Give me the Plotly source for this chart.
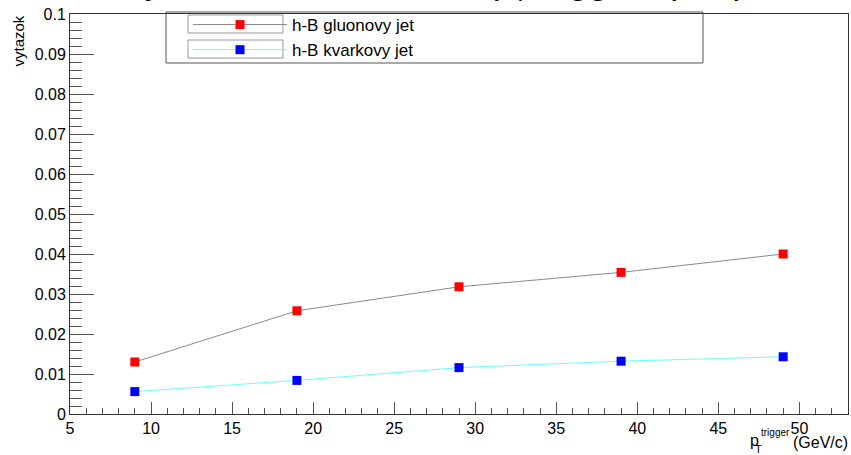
import plotly.graph_objects as go

# ---- data ----
pt_trigger = [9, 19, 29, 39, 49]
gluon_yield = [0.0130, 0.0258, 0.0318, 0.0354, 0.0400]
quark_yield = [0.0056, 0.0084, 0.0116, 0.0132, 0.0143]
series_names = ["h-B gluonovy jet", "h-B kvarkovy jet"]

FONT = "Liberation Sans, Arial, Helvetica, sans-serif"
W, H = 851, 455
L, R, T, B = 70, 3, 14, 41
PW, PH = W - L - R, H - T - B

def px_x(p):
    return (p - L) / PW

def px_y(p):
    return (H - B - p) / PH

fig = go.Figure()
fig.add_trace(go.Scatter(
    x=pt_trigger, y=gluon_yield, name=series_names[0], mode="lines+markers",
    line=dict(color="#8a8a8a", width=1),
    marker=dict(symbol="square", size=9, color="#ff0000", line=dict(width=0)),
))
fig.add_trace(go.Scatter(
    x=pt_trigger, y=quark_yield, name=series_names[1], mode="lines+markers",
    line=dict(color="#66ffff", width=1),
    marker=dict(symbol="square", size=9, color="#0000ff", line=dict(width=0)),
))

axis_common = dict(
    showgrid=False, zeroline=False, showline=True, linecolor="#333", linewidth=1,
    mirror=True, ticks="inside", tickcolor="#555", tickwidth=1, automargin=False,
    tickfont=dict(family=FONT, size=16, color="black"),
)
fig.update_xaxes(range=[5, 53], dtick=5, tick0=5, ticklen=12,
                 minor=dict(dtick=1, ticklen=6, ticks="inside", tickcolor="#555"),
                 **axis_common)
fig.update_yaxes(range=[0, 0.1], dtick=0.01, tick0=0, ticklen=24,
                 minor=dict(dtick=0.002, ticklen=12, ticks="inside", tickcolor="#555"),
                 **axis_common)

shapes = [
    # legend frame
    dict(type="rect", xref="paper", yref="paper",
         x0=px_x(166), x1=px_x(703), y0=px_y(63), y1=px_y(12),
         line=dict(color="#555", width=1), fillcolor="rgba(0,0,0,0)", layer="above"),
    # legend symbol boxes
    dict(type="rect", xref="paper", yref="paper",
         x0=px_x(188), x1=px_x(283), y0=px_y(33), y1=px_y(15),
         line=dict(color="#999", width=1), fillcolor="rgba(0,0,0,0)", layer="above"),
    dict(type="rect", xref="paper", yref="paper",
         x0=px_x(188), x1=px_x(283), y0=px_y(58), y1=px_y(40),
         line=dict(color="#999", width=1), fillcolor="rgba(0,0,0,0)", layer="above"),
]

annotations = [
    # cut-off title
    dict(text="Vytazok v zavislosti od p<sub>T</sub> triggera pre p",
         xref="paper", yref="paper", x=px_x(437), y=1, yanchor="bottom",
         xanchor="center", yshift=6, showarrow=False,
         font=dict(family=FONT, size=36, color="black")),
    # y title
    dict(text="vytazok", textangle=-90, xref="paper", yref="paper",
         x=px_x(18), y=1, xanchor="center", yanchor="top", showarrow=False,
         font=dict(family=FONT, size=15, color="black")),
    # x title pieces
    dict(text="(GeV/c)", xref="paper", yref="paper", x=1, xshift=R - 1,
         y=px_y(442), xanchor="right", yanchor="middle", showarrow=False,
         font=dict(family=FONT, size=16, color="black")),
    dict(text="p", xref="paper", yref="paper", x=px_x(754), y=px_y(440),
         xanchor="center", yanchor="middle", showarrow=False,
         font=dict(family=FONT, size=16, color="black")),
    dict(text="trigger", xref="paper", yref="paper", x=px_x(759), y=px_y(432),
         xanchor="left", yanchor="middle", showarrow=False,
         font=dict(family=FONT, size=10, color="black")),
    dict(text="T", xref="paper", yref="paper", x=px_x(758), y=px_y(449),
         xanchor="center", yanchor="middle", showarrow=False,
         font=dict(family=FONT, size=11, color="black")),
]

fig.update_layout(
    width=W, height=H,
    margin=dict(l=L, r=R, t=T, b=B, autoexpand=False),
    paper_bgcolor="white", plot_bgcolor="white",
    showlegend=True,
    legend=dict(x=px_x(188), y=px_y(7), xanchor="left", yanchor="top",
                bgcolor="rgba(0,0,0,0)", borderwidth=0, itemwidth=94,
                font=dict(family=FONT, size=17, color="black"),
                tracegroupgap=0),
    shapes=shapes,
    annotations=annotations,
)

fig.write_html("out.html", config={"displayModeBar": False},
               post_script="document.body.style.margin='0';document.body.style.padding='0';")
